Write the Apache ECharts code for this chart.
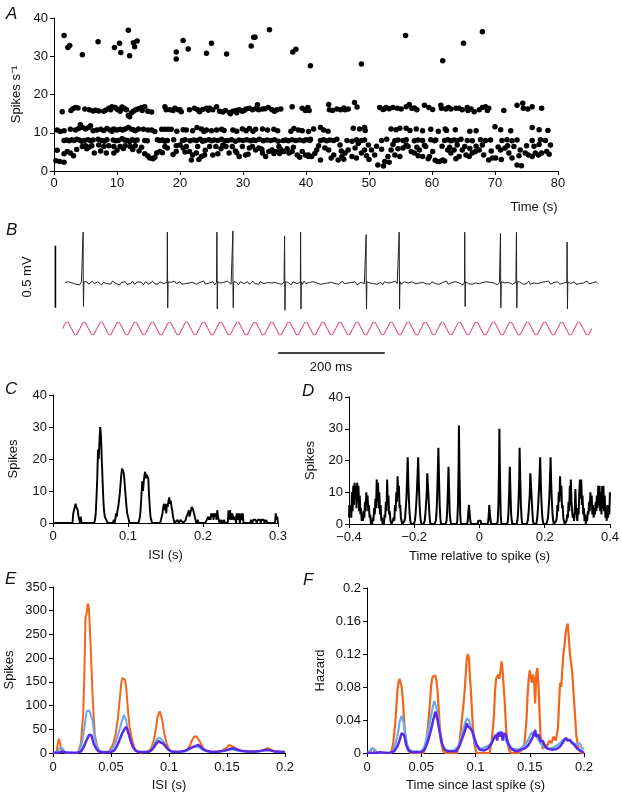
<!DOCTYPE html>
<html><head><meta charset="utf-8">
<script src="https://cdn.jsdelivr.net/npm/echarts@6/dist/echarts.min.js"></script>
<style>html,body{margin:0;padding:0;background:#fff}#c{width:622px;height:794px}</style>
</head><body><div id="c"></div>
<script>
// ---------- Panel A : instantaneous rate (time s, spikes/s) ----------
const aHigh = [[1.6,35.4],[2.2,32.3],[2.5,32.8],[4.5,30.4],[7.0,33.8],[9.6,32.3],[10.4,33.4],[10.6,31.0],[11.8,36.8],[12.0,30.1],[12.6,33.5],[12.8,32.5],[13.2,34.0],[19.4,31.1],[19.4,29.3],[20.5,34.1],[21.3,31.9],[24.2,30.8],[25.0,33.4],[27.4,30.6],[31.3,32.7],[31.7,35.0],[31.9,35.0],[34.2,36.9],[37.9,31.1],[38.4,31.8],[40.7,27.5],[48.8,28.0],[55.8,35.4],[61.7,28.8],[65.0,33.4],[68.0,36.4]];
const aBand16 = [[1.3,15.5],[2.7,15.8],[3.0,16.3],[3.4,16.6],[3.8,16.5],[4.9,16.2],[6.6,15.9],[7.1,15.7],[7.9,15.6],[8.7,16.4],[9.2,16.8],[9.7,16.6],[10.0,16.2],[10.2,16.0],[10.5,15.6],[10.8,16.7],[11.2,16.3],[11.5,16.0],[11.8,14.5],[12.0,14.2],[12.3,15.2],[12.6,15.6],[13.0,16.0],[13.4,16.3],[13.9,16.6],[14.4,16.8],[14.9,15.6],[15.5,15.4],[17.6,16.8],[17.8,16.0],[18.4,16.0],[18.9,15.8],[19.7,16.0],[20.2,15.5],
[20.0,16.0],[21.5,16.0],[22.3,16.4],[23.1,15.5],[23.6,16.1],[24.2,16.4],[24.7,16.4],[25.2,16.0],[25.8,16.8],[26.3,15.6],[26.8,15.4],[27.9,15.3],[28.4,15.6],[28.9,15.8],[29.4,16.0],[29.9,15.6],[30.5,16.2],[31.0,16.4],[31.5,16.0],[32.0,16.3],[32.3,17.3],[32.5,16.0],[33.1,16.2],[34.6,16.0],[35.4,16.0],[37.8,16.8],[39.4,16.4],[39.9,15.8],[40.2,16.2],
[40.3,16.6],[40.5,15.8],[43.6,17.4],[43.7,16.0],[44.9,16.2],[45.5,16.0],[46.2,16.0],[46.7,16.2],[47.7,17.9],[48.1,16.7],[51.7,16.6],[52.2,16.1],[52.7,16.6],[53.2,16.3],[53.8,16.6],[55.1,16.2],[55.9,16.8],[56.4,17.4],[56.8,16.4],[57.2,16.5],[58.8,17.2],[59.5,16.6],[60.1,16.1],
[61.4,17.2],[61.5,16.4],[62.2,16.2],[63.0,16.2],[63.8,16.4],[64.3,16.4],[65.6,16.6],[65.7,15.8],[66.7,15.5],[67.5,16.0],[68.0,16.6],[68.5,16.8],[69.0,16.4],[71.4,15.8],[73.5,17.2],[74.4,17.7],[74.5,16.4],[75.9,16.8],[77.4,16.4],
[5.6,16.0],[6.2,15.7],[8.2,15.9],[9.0,16.0],[11.0,16.5],[14.0,15.8],[19.2,16.4],[22.8,16.0],[24.5,15.9],[27.2,15.8],[28.0,15.0],[29.0,15.2],[30.2,15.9],[33.5,16.3],[34.0,16.6],[35.0,15.6],[36.0,16.2],[44.2,15.8],[46.0,16.5],[52.4,16.2],[54.5,16.4],[57.6,16.0],[62.6,16.6],[64.8,16.0],[66.2,16.2],[68.8,15.8],[75.2,16.2]];
const aBand10 = [[0.5,10.7],[1.6,10.5],[2.6,10.9],[3.4,10.7],[3.9,11.1],[4.2,12.1],[4.5,11.4],[5.0,11.0],[5.5,11.4],[5.8,11.8],[6.8,10.7],[7.4,10.9],[8.4,11.1],[8.9,10.7],[9.5,11.0],[10.0,10.7],[10.5,10.9],[10.9,10.7],[11.3,11.0],[11.8,11.4],[12.3,10.9],[12.9,10.5],[13.4,11.0],[14.2,10.9],[14.9,10.7],[15.5,10.7],[16.0,10.3],[17.1,10.9],[17.6,10.9],[18.1,10.9],[18.6,10.9],
[21.0,10.7],[22.0,10.5],[22.7,11.4],[23.4,11.0],[24.2,10.7],[25.0,10.5],[25.8,10.7],[26.6,10.9],[28.4,10.7],[29.9,11.0],[30.5,10.5],[31.0,11.1],[32.0,10.9],[33.1,11.0],[33.9,10.7],[34.9,10.9],[38.1,11.1],[38.8,10.7],[39.4,10.5],[40.4,10.3],
[41.2,11.0],[42.3,11.4],[42.8,10.7],[47.5,11.2],[49.3,11.4],[49.4,10.6],[53.5,11.0],[54.3,10.8],[54.9,11.2],[55.9,11.2],[57.5,11.0],[59.8,10.9],
[62.1,11.0],[62.3,10.6],[63.7,10.8],[66.0,10.4],[70.0,11.6],[70.9,10.8],[75.9,11.4],[78.4,10.6],
[1.0,10.3],[6.2,10.5],[7.9,10.6],[9.2,10.4],[12.6,10.8],[19.5,10.4],[20.5,10.8],[23.8,10.3],[27.0,10.6],[29.0,10.4],[31.6,10.4],[35.5,10.5],[37.6,10.4],[43.5,10.4],[48.5,11.0],[56.5,10.6],[58.5,10.5],[61.0,10.4],[67.0,10.5],[72.5,10.5],[77.0,10.8]];
const aBand8 = [[1.6,8.0],[2.0,8.1],[2.4,7.9],[2.8,8.2],[3.2,8.0],[3.6,8.3],[4.0,8.1],[4.4,7.8],[4.8,8.0],[5.4,8.2],[5.8,7.9],[6.2,8.1],[7.0,8.3],[7.6,8.0],[8.0,7.8],[8.4,8.2],[9.4,8.1],[9.8,7.9],[10.2,8.0],[10.8,8.4],[11.2,8.1],[11.6,8.0],[12.0,7.7],[12.4,8.2],[12.8,8.0],[13.2,8.1],[14.4,8.0],[14.8,7.9],[16.4,8.2],[16.8,8.0],[17.2,8.1],[17.6,7.8],[18.0,8.0],[19.0,8.2],
[20.4,8.0],[20.8,8.2],[21.6,7.9],[22.2,8.1],[22.6,8.0],[23.2,8.3],[23.6,7.8],[24.0,8.0],[24.6,8.2],[25.0,7.9],[25.4,8.1],[26.0,8.0],[26.6,8.3],[27.2,7.9],[27.6,8.0],[28.2,8.2],[28.8,7.8],[29.4,8.1],[30.0,8.0],[30.6,8.2],[31.2,7.9],[31.6,8.1],[32.0,8.0],[32.6,8.3],[33.2,7.9],[33.8,8.1],[34.4,8.0],[35.0,8.2],[35.6,7.8],[36.4,8.0],[36.8,8.1],[37.2,7.9],[37.8,8.2],[38.4,8.0],[39.0,8.1],[39.6,7.9],[40.0,8.2],[40.6,8.0],
[40.7,8.3],[42.3,8.0],[42.8,8.2],[43.3,7.9],[43.8,8.1],[44.4,8.0],[44.9,8.3],[46.5,8.0],[47.3,7.8],[48.0,8.2],[48.8,8.0],[49.3,8.1],[52.0,8.0],[52.8,8.3],[54.1,7.9],[54.6,8.1],[55.4,8.0],[55.9,8.2],[57.2,7.9],[57.8,8.1],[58.5,8.0],[59.8,8.2],[60.4,7.9],
[60.6,8.1],[62.0,8.0],[62.5,8.2],[63.0,7.9],[63.5,8.1],[64.0,8.0],[64.6,8.3],[65.6,8.0],[66.4,7.9],[67.7,8.2],[68.5,8.0],[69.3,8.1],[71.1,8.0],[71.9,8.2],[72.7,7.9],[73.5,8.1],[75.9,8.0],[77.2,8.2],[78.0,8.0]];
const aBand6 = [[4.5,6.4],[5.0,6.6],[5.5,6.2],[6.0,6.6],[7.1,6.8],[7.9,6.4],[8.7,6.6],[9.5,6.4],[10.5,6.4],[11.3,6.6],[12.1,6.4],[12.9,6.6],[13.9,6.2],[17.6,6.4],[19.4,6.6],[18.0,6.0],[3.6,5.6],[5.2,5.8],[11.0,5.9],
[67.0,6.5],[68.0,6.8],[70.5,6.3],[72.0,6.6],[73.0,6.4],[75.0,6.6],[76.2,6.5],[77.0,6.9],[78.8,6.8],
[42.0,6.6],[45.4,6.8],[51.2,6.5],[53.8,6.9],[56.2,6.4],[58.8,6.7],[61.6,6.5],[64.0,6.8],[65.2,6.4]];
const aLow = [[0.3,2.7],[0.9,2.5],[1.6,2.3],[0.5,5.4],[1.6,4.5],[2.1,5.1],[2.6,4.7],[3.1,4.0],[6.4,4.7],[8.3,4.7],[9.5,4.7],[14.4,4.5],[14.9,3.9],[15.2,3.4],[15.7,3.2],[16.0,3.6],[16.3,4.7],[16.8,5.1],[18.9,4.3],[19.4,5.1],
[20.0,6.8],[20.5,6.0],[21.0,6.4],[21.5,5.1],[21.8,2.9],[22.0,4.2],[22.6,4.7],[22.8,6.4],[23.4,3.8],[23.9,4.2],[24.7,6.4],[25.2,4.2],[25.7,6.4],[26.8,6.8],[27.3,6.4],[27.8,4.7],[28.3,6.4],[29.4,3.8],[29.9,6.4],[30.4,4.2],[31.0,6.0],[31.5,6.4],[32.0,5.5],[32.5,6.0],[33.1,4.7],[33.6,3.8],[34.1,5.1],[34.6,5.5],[35.2,5.1],[35.7,6.4],[36.5,5.1],[37.3,4.7],[37.8,5.1],[38.6,4.2],[39.4,5.1],[39.9,4.2],[40.4,3.8],[23.0,3.0],[26.0,4.5],[28.8,5.2],[30.8,4.4],[32.8,5.8],[34.9,4.6],[36.0,5.6],[38.0,6.2],
[40.4,4.2],[40.9,3.8],[41.7,5.5],[42.3,2.9],[43.0,6.0],[43.6,5.5],[44.4,4.2],[45.1,2.9],[45.7,3.8],[46.2,4.7],[46.7,5.5],[47.3,3.8],[47.8,6.0],[48.3,7.2],[48.8,4.7],[49.3,5.5],[49.9,6.8],[50.4,5.5],[50.9,4.2],[51.4,1.6],[52.0,5.7],[52.5,2.5],[53.0,3.8],[53.5,5.5],[54.1,4.2],[54.9,3.8],[55.4,6.0],[55.9,6.8],[56.7,5.1],[57.2,4.7],[58.0,5.5],[58.5,3.8],[59.0,6.4],[59.6,3.8],[60.1,5.1],[60.9,2.5],[44.0,3.4],[46.0,3.1],[48.0,3.4],[50.0,3.0],[52.3,1.3],[53.2,2.3],[57.8,4.0],[59.4,3.2],[60.5,2.8],
[61.2,2.5],[61.7,2.9],[62.5,5.5],[63.0,4.7],[63.5,5.5],[64.3,3.8],[64.8,5.5],[65.4,4.2],[65.9,3.8],[66.4,4.7],[66.9,5.1],[67.5,5.5],[68.2,4.2],[69.0,2.9],[69.6,3.4],[70.1,3.4],[70.9,5.5],[71.6,6.0],[72.2,4.7],[72.7,3.4],[73.5,1.6],[74.0,5.5],[74.8,4.7],[75.3,4.2],[75.9,3.8],[76.4,4.7],[76.9,4.2],[77.4,4.7],[78.2,5.1],[62.0,2.6],[71.0,3.0],[63.8,3.2],[74.2,1.4],
[7.4,5.2],[10.0,5.4],[12.5,5.6],[13.5,5.2],[17.2,4.8],[20.8,5.0],[24.0,5.4],[26.5,5.8],[29.0,4.8],[33.0,5.6],[35.8,4.6],[37.0,5.8],[39.0,3.6],[41.4,4.6],[45.6,5.2],[49.6,4.0],[54.6,5.8],[57.6,6.2],[62.8,6.2],[66.0,5.9],[69.4,5.2],[73.8,4.0],[78.6,4.4]];
const aXTicks = ['0','10','20','30','40','50','60','70','80'];

// ---------- Panel B : voltage trace (ms, mV) ----------
const spikeTimes = [34,192,285,315,412,442,565,627,750,817,847,942];
const spikeTops = [0.41,0.41,0.41,0.42,0.38,0.41,0.39,0.41,0.41,0.40,0.41,0.33];
const spikeBottoms = [-0.19,-0.20,-0.21,-0.20,-0.22,-0.21,-0.21,-0.21,-0.19,-0.20,-0.20,-0.21];
const noiseB = [1,-2,2,-1,0,3,-2,1,-3,2,0,-1,2,-2,1,3,-1,-2,2,0,-3,1,2,-1,1,-2,3,0,-1,2,-3,1,0,2,-2,1,-1,3,-2,0,2,-1,1,-3,2,0,-2,1,3,-1,0,-2,2,1,-1,-3,2,0,1,-2,3,-1,0,2,-2,1,-1,2,0,-3,1,2,-2,0,1,-1,3,-2,1,0,-1,2,-3,1,2,0,-2,1,-1,3,0,-2,2,-1,1,-3,2,0,-1,1,2,-2,0,3,-1,1,-2,2,0,-1,-3,1,2,0,-2,1,3,-1,0,-2,2,-1,1,0,-3,2,1,-1,0,2,-2,3,-1,0,1,-2,2,-1,0,3,-2,1,-1,2,0,-3,1,2,-1,0,-2,1,3,-1,2,0,-2,1,-1,2,-3,0,1,2,-1,-2,3,0,1,-1,2,-2,0,1,-3,2,-1,0,2,1,-2,3,-1,0,-2,1,2,-1,0,-3,2,1,-1,2,0,-2,1,3,-1,0,-2,2,1,-1,2,-2,0,1,-1,3,-2,0,1,-2,2,-1,0,2,-3,1,0,-1,2,-2,1,0,3,-1,-2,1,0,2,-1,1,-2,0,2,-3,1,-1,2,0,-2,1,3,-2,0,1,-1,2,0,-2,1,-1,3,-2,1,0,2,-1,-2,1,0,2,-1,3,-2,0,1,-1,2,-2,1,0,-3,2,1,-1,0,2,-2,1,-1,2,0,-2,3,-1,1,0,-2,2,-1];
const noiseUnit = 0.005;   // mV per noise unit
const sineStart = -4, sineStep = 8; // ms
const sineVals = [0,1,0,-1,0,1,0,-1,0,1,0,-1,0,1,0,-1,0,1,0,-1,0,1,0,-1,0,1,0,-1,0,1,0,-1,0,1,0,-1,0,1,0,-1,0,1,0,-1,0,1,0,-1,0,1,0,-1,0,1,0,-1,0,1,0,-1,0,1,0,-1,0,1,0,-1,0,1,0,-1,0,1,0,-1,0,1,0,-1,0,1,0,-1,0,1,0,-1,0,1,0,-1,0,1,0,-1,0,1,0,-1,0,1,0,-1,0,1,0,-1,0,1,0,-1,0,1,0,-1,0,1,0,-1,0,1,0,-1,0];
const scaleBarV = [[-18,0.3],[-18,-0.2]];   // 0.5 mV
const scaleBarH = [[400,0],[600,0]];        // 200 ms

// ---------- Panel C : ISI histogram ----------
const cISI = [[0,0],[0.026,0],[0.027,3],[0.028,4],[0.029,5],[0.030,6],[0.031,5],[0.032,5],[0.033,4],[0.034,2],[0.035,2],[0.036,0],[0.037,2],[0.038,0],
[0.055,0],[0.056,1],[0.057,3],[0.058,8],[0.059,14],[0.060,23],[0.061,20],[0.062,26],[0.063,30],[0.064,27],[0.065,20],[0.066,14],[0.067,8],[0.068,4],[0.069,2],[0.070,2],[0.071,1],[0.072,1],[0.073,0],
[0.080,0],[0.081,1],[0.082,0],[0.083,1],[0.084,3],[0.085,2],[0.086,4],[0.087,5],[0.088,7],[0.089,9],[0.090,12],[0.091,15],[0.092,17],[0.093,17],[0.094,16],[0.095,14],[0.096,11],[0.097,8],[0.098,5],[0.099,3],[0.100,2],[0.101,1],[0.102,0],
[0.114,0],[0.115,1],[0.116,2],[0.117,5],[0.118,9],[0.119,13],[0.120,10],[0.121,13],[0.122,15],[0.123,16],[0.124,14],[0.125,15],[0.126,15],[0.127,14],[0.128,9],[0.129,5],[0.130,2],[0.131,1],[0.132,0],
[0.143,0],[0.144,1],[0.145,1],[0.146,3],[0.147,5],[0.148,6],[0.149,4],[0.150,6],[0.151,3],[0.152,6],[0.153,5],[0.154,7],[0.155,8],[0.156,6],[0.157,7],[0.158,5],[0.159,4],[0.160,2],[0.161,1],[0.162,0],[0.166,1],[0.168,0],[0.170,1],[0.172,1],[0.174,0],
[0.176,0],[0.177,1],[0.178,2],[0.179,2],[0.180,3],[0.181,4],[0.182,2],[0.183,3],[0.184,4],[0.185,5],[0.186,5],[0.187,4],[0.188,3],[0.189,2],[0.190,1],[0.191,0],[0.193,1],[0.194,0],
[0.203,0],[0.205,1],[0.207,2],[0.208,1],[0.209,2],[0.210,1],[0.211,3],[0.212,2],[0.213,3],[0.214,1],[0.215,3],[0.216,2],[0.217,3],[0.218,1],[0.219,4],[0.220,2],[0.221,1],[0.222,0],[0.224,1],[0.226,0],[0.228,1],[0.229,0],
[0.233,0],[0.234,4],[0.235,1],[0.236,4],[0.237,2],[0.238,1],[0.239,3],[0.240,2],[0.241,1],[0.242,1],[0.243,2],[0.244,0],[0.245,3],[0.246,1],[0.247,2],[0.248,3],[0.249,0],[0.250,1],[0.251,3],[0.252,1],[0.253,3],[0.254,0],
[0.263,0],[0.264,1],[0.266,0],[0.267,1],[0.270,1],[0.272,0],[0.273,1],[0.276,1],[0.277,0],[0.278,1],[0.281,1],[0.282,0],[0.284,1],[0.286,0],[0.296,0],[0.297,3],[0.298,1],[0.299,2],[0.300,0]];
const cXTicks = ['0','0.1','0.2','0.3'];

// ---------- Panel D : autocorrelogram ----------
const dAuto = [[-0.400,2],[-0.399,6],[-0.397,3],[-0.395,5],[-0.393,2],[-0.391,10],[-0.389,4],[-0.387,12],[-0.385,6],[-0.383,13],[-0.381,8],[-0.379,12],[-0.377,5],[-0.375,13],[-0.373,7],[-0.371,12],[-0.369,4],[-0.367,9],[-0.365,3],[-0.363,5],[-0.361,1],[-0.359,3],[-0.357,1],[-0.355,4],[-0.353,2],[-0.351,7],[-0.349,4],[-0.347,10],[-0.345,6],[-0.343,9],[-0.341,4],[-0.339,6],[-0.337,2],[-0.335,3],[-0.333,0],[-0.331,1],[-0.329,0],[-0.327,2],[-0.325,1],[-0.323,5],[-0.321,3],[-0.319,8],[-0.317,5],[-0.315,14],[-0.313,7],[-0.311,13],[-0.309,5],[-0.307,10],[-0.305,3],[-0.303,6],[-0.301,1],[-0.299,2],[-0.297,0],[-0.295,1],[-0.293,0],[-0.291,3],[-0.289,2],[-0.287,7],[-0.285,4],[-0.283,14],[-0.281,6],[-0.279,9],[-0.277,3],[-0.275,4],[-0.273,1],[-0.271,1],[-0.269,0],[-0.266,0],[-0.263,2],[-0.261,1],[-0.259,6],[-0.257,4],[-0.255,10],[-0.253,7],[-0.251,15],[-0.249,9],[-0.247,12],[-0.245,5],[-0.243,6],[-0.241,2],[-0.239,1],[-0.237,0],[-0.233,0],[-0.230,1],[-0.228,2],[-0.226,5],[-0.224,8],[-0.222,14],[-0.220,21],[-0.218,12],[-0.216,7],[-0.214,3],[-0.212,1],[-0.210,0],[-0.201,0],[-0.198,1],[-0.196,3],[-0.194,6],[-0.192,10],[-0.190,15],[-0.188,21],[-0.186,13],[-0.184,7],[-0.182,3],[-0.180,1],[-0.178,0],[-0.171,0],[-0.168,1],[-0.166,3],[-0.164,6],[-0.162,9],[-0.160,16],[-0.158,12],[-0.156,8],[-0.154,4],[-0.152,1],[-0.150,0],[-0.137,0],[-0.134,1],[-0.132,3],[-0.130,8],[-0.128,15],[-0.126,24],[-0.124,14],[-0.122,6],[-0.120,2],[-0.118,0],[-0.104,0],[-0.101,1],[-0.099,4],[-0.097,10],[-0.095,18],[-0.093,10],[-0.091,3],[-0.089,1],[-0.087,0],[-0.070,0],[-0.068,1],[-0.066,6],[-0.064,18],[-0.063,31],[-0.061,14],[-0.059,3],[-0.057,0],[-0.038,0],[-0.036,1],[-0.034,4],[-0.032,6],[-0.030,3],[-0.028,1],[-0.026,0],[-0.005,0],[-0.004,1],[0.004,1],[0.005,0],
[0.025,0],[0.027,1],[0.029,4],[0.030,6],[0.032,3],[0.034,1],[0.036,0],[0.054,0],[0.056,1],[0.058,6],[0.060,18],[0.061,30],[0.063,14],[0.065,3],[0.067,0],[0.085,0],[0.087,1],[0.089,4],[0.091,10],[0.093,18],[0.095,10],[0.097,3],[0.099,1],[0.101,0],[0.114,0],[0.116,1],[0.118,3],[0.120,8],[0.122,15],[0.123,24],[0.125,14],[0.127,6],[0.129,2],[0.131,0],[0.145,0],[0.148,1],[0.150,3],[0.152,6],[0.154,9],[0.156,16],[0.158,12],[0.160,8],[0.162,4],[0.164,1],[0.166,0],[0.174,0],[0.176,1],[0.178,3],[0.180,6],[0.182,10],[0.184,15],[0.186,21],[0.188,13],[0.190,7],[0.192,3],[0.194,1],[0.196,0],[0.205,0],[0.208,1],[0.210,2],[0.212,5],[0.214,8],[0.216,14],[0.218,21],[0.220,12],[0.222,7],[0.224,3],[0.226,1],[0.228,0],[0.233,0],[0.235,1],[0.237,2],[0.239,6],[0.241,4],[0.243,10],[0.245,7],[0.247,15],[0.249,9],[0.251,12],[0.253,5],[0.255,6],[0.257,2],[0.259,1],[0.261,0],[0.265,0],[0.267,1],[0.269,3],[0.271,2],[0.273,7],[0.275,4],[0.277,12],[0.279,6],[0.280,14],[0.282,7],[0.284,4],[0.286,2],[0.288,3],[0.290,1],[0.292,4],[0.294,11],[0.296,5],[0.298,3],[0.300,1],[0.302,5],[0.304,3],[0.306,10],[0.308,14],[0.310,8],[0.312,14],[0.314,6],[0.316,9],[0.318,3],[0.320,5],[0.322,1],[0.324,3],[0.326,0],[0.328,2],[0.330,1],[0.332,4],[0.334,3],[0.336,7],[0.338,4],[0.340,10],[0.342,6],[0.344,9],[0.346,3],[0.348,6],[0.350,2],[0.352,4],[0.354,3],[0.356,7],[0.358,4],[0.360,9],[0.362,5],[0.364,12],[0.366,6],[0.368,12],[0.370,4],[0.372,10],[0.374,3],[0.376,12],[0.378,5],[0.380,12],[0.382,4],[0.384,9],[0.386,2],[0.388,5],[0.390,1],[0.392,6],[0.394,2],[0.396,6],[0.398,3],[0.400,10]];
const dXTicks = ['\u22120.4','\u22120.2','0','0.2','0.4'];

// ---------- Panel E : ISI histograms, three units ----------
const eOrange = [[0,0],[0.003,2],[0.004,18],[0.005,30],[0.006,22],[0.007,8],[0.009,2],[0.012,0],[0.02,0],[0.022,4],[0.024,20],[0.026,80],[0.027,160],[0.028,285],[0.029,295],[0.030,315],[0.031,305],[0.032,250],[0.033,190],[0.034,130],[0.035,80],[0.036,40],[0.038,15],[0.040,5],[0.043,2],[0.048,3],[0.050,10],[0.052,20],[0.054,40],[0.056,75],[0.058,125],[0.059,150],[0.060,158],[0.061,157],[0.062,155],[0.063,140],[0.064,110],[0.065,80],[0.066,55],[0.068,30],[0.070,12],[0.072,4],[0.075,1],[0.080,2],[0.083,5],[0.085,12],[0.087,28],[0.089,55],[0.090,75],[0.091,82],[0.092,88],[0.093,80],[0.094,72],[0.095,55],[0.096,40],[0.098,20],[0.100,8],[0.103,3],[0.110,2],[0.114,4],[0.116,8],[0.118,15],[0.120,28],[0.122,35],[0.123,33],[0.124,35],[0.125,30],[0.127,22],[0.129,12],[0.131,6],[0.134,3],[0.140,2],[0.145,4],[0.148,8],[0.150,12],[0.152,17],[0.154,15],[0.156,12],[0.158,9],[0.161,5],[0.165,3],[0.170,2],[0.175,3],[0.180,5],[0.183,8],[0.185,10],[0.187,8],[0.190,5],[0.195,3],[0.2,2]];
const eLightBlue = [[0,0],[0.004,3],[0.006,12],[0.007,15],[0.008,10],[0.010,3],[0.013,1],[0.020,1],[0.022,3],[0.024,12],[0.026,35],[0.028,70],[0.029,88],[0.030,86],[0.031,90],[0.032,85],[0.033,87],[0.034,70],[0.035,50],[0.036,30],[0.038,12],[0.040,5],[0.044,2],[0.048,3],[0.050,6],[0.052,12],[0.054,22],[0.056,38],[0.058,55],[0.060,72],[0.061,80],[0.062,78],[0.063,70],[0.064,55],[0.066,35],[0.068,18],[0.070,8],[0.073,3],[0.080,2],[0.084,5],[0.086,12],[0.088,22],[0.090,30],[0.092,32],[0.094,28],[0.096,20],[0.098,12],[0.100,6],[0.104,2],[0.112,2],[0.116,5],[0.119,10],[0.122,14],[0.124,13],[0.126,12],[0.128,8],[0.131,4],[0.136,2],[0.145,3],[0.150,6],[0.153,8],[0.156,7],[0.160,4],[0.168,2],[0.178,3],[0.183,5],[0.186,6],[0.189,4],[0.195,2],[0.2,2]];
const ePurple = [[0,0],[0.005,1],[0.008,3],[0.011,1],[0.020,0],[0.024,3],[0.026,10],[0.028,22],[0.030,32],[0.031,38],[0.032,35],[0.033,38],[0.034,30],[0.035,20],[0.037,10],[0.039,4],[0.042,1],[0.050,2],[0.053,6],[0.055,14],[0.057,25],[0.059,38],[0.061,48],[0.062,52],[0.063,55],[0.064,50],[0.065,42],[0.067,25],[0.069,12],[0.071,5],[0.074,2],[0.082,2],[0.085,6],[0.087,12],[0.089,20],[0.091,25],[0.093,22],[0.095,20],[0.097,14],[0.099,8],[0.102,3],[0.108,2],[0.114,5],[0.117,9],[0.120,12],[0.123,15],[0.125,17],[0.127,14],[0.129,9],[0.132,5],[0.137,2],[0.143,3],[0.148,5],[0.152,8],[0.155,10],[0.158,8],[0.162,5],[0.168,3],[0.175,3],[0.180,5],[0.184,7],[0.187,6],[0.191,3],[0.2,2]];
const eXTicks = ['0','0.05','0.1','0.15','0.2'];

// ---------- Panel F : hazard functions ----------
const fOrange = [[0,0],[0.003,0],[0.004,0.005],[0.006,0.005],[0.007,0],[0.022,0],[0.024,0.01],[0.026,0.035],[0.027,0.055],[0.028,0.075],[0.029,0.085],[0.030,0.09],[0.031,0.088],[0.032,0.08],[0.033,0.065],[0.034,0.045],[0.035,0.025],[0.036,0.012],[0.038,0.003],[0.040,0],[0.052,0],[0.054,0.008],[0.056,0.03],[0.058,0.06],[0.059,0.08],[0.060,0.09],[0.061,0.093],[0.062,0.095],[0.063,0.094],[0.064,0.088],[0.065,0.075],[0.066,0.055],[0.067,0.035],[0.068,0.015],[0.070,0.003],[0.072,0],[0.083,0],[0.085,0.01],[0.087,0.035],[0.089,0.06],[0.090,0.075],[0.091,0.095],[0.092,0.115],[0.093,0.12],[0.094,0.115],[0.095,0.09],[0.096,0.07],[0.097,0.045],[0.098,0.025],[0.099,0.01],[0.101,0],[0.113,0],[0.115,0.015],[0.117,0.045],[0.118,0.075],[0.119,0.09],[0.120,0.088],[0.121,0.095],[0.122,0.09],[0.123,0.1],[0.124,0.111],[0.125,0.1],[0.126,0.08],[0.127,0.06],[0.128,0.035],[0.129,0.015],[0.131,0.003],[0.133,0],[0.140,0],[0.143,0.005],[0.145,0.01],[0.147,0.04],[0.148,0.07],[0.149,0.09],[0.150,0.1],[0.151,0.102],[0.152,0.085],[0.153,0.095],[0.154,0.09],[0.155,0.06],[0.156,0.095],[0.157,0.103],[0.158,0.085],[0.159,0.05],[0.160,0.02],[0.162,0.005],[0.164,0.01],[0.166,0.008],[0.168,0.015],[0.170,0.012],[0.172,0.02],[0.174,0.015],[0.176,0.03],[0.177,0.06],[0.178,0.085],[0.179,0.08],[0.180,0.1],[0.181,0.12],[0.182,0.13],[0.183,0.145],[0.184,0.152],[0.185,0.157],[0.186,0.14],[0.187,0.12],[0.188,0.12],[0.189,0.1],[0.190,0.08],[0.191,0.06],[0.192,0.04],[0.193,0.02],[0.195,0.005],[0.197,0],[0.2,0]];
const fLightBlue = [[0,0],[0.003,0.003],[0.005,0.006],[0.007,0.004],[0.009,0.001],[0.012,0],[0.022,0],[0.025,0.005],[0.027,0.015],[0.029,0.028],[0.030,0.038],[0.031,0.04],[0.032,0.045],[0.033,0.043],[0.034,0.035],[0.035,0.025],[0.037,0.01],[0.039,0.004],[0.042,0.002],[0.050,0.002],[0.053,0.008],[0.055,0.018],[0.057,0.03],[0.059,0.045],[0.061,0.058],[0.062,0.063],[0.063,0.062],[0.064,0.055],[0.066,0.038],[0.068,0.02],[0.070,0.008],[0.073,0.003],[0.080,0.003],[0.084,0.008],[0.086,0.015],[0.088,0.025],[0.090,0.035],[0.092,0.042],[0.094,0.04],[0.096,0.03],[0.098,0.02],[0.100,0.01],[0.103,0.005],[0.107,0.006],[0.110,0.008],[0.113,0.01],[0.116,0.016],[0.119,0.022],[0.122,0.025],[0.124,0.024],[0.126,0.02],[0.128,0.015],[0.131,0.008],[0.135,0.005],[0.140,0.004],[0.144,0.008],[0.147,0.012],[0.150,0.02],[0.152,0.025],[0.154,0.022],[0.156,0.02],[0.159,0.014],[0.162,0.008],[0.166,0.005],[0.170,0.006],[0.174,0.008],[0.178,0.012],[0.181,0.016],[0.184,0.018],[0.187,0.015],[0.190,0.012],[0.193,0.01],[0.196,0.012],[0.198,0.006],[0.2,0.005]];
const fPurple = [[0,0],[0.008,0],[0.012,0.001],[0.020,0],[0.025,0.002],[0.028,0.008],[0.030,0.015],[0.031,0.02],[0.032,0.024],[0.033,0.026],[0.034,0.022],[0.035,0.018],[0.036,0.01],[0.038,0.004],[0.041,0.001],[0.050,0.001],[0.053,0.004],[0.055,0.01],[0.057,0.018],[0.059,0.028],[0.061,0.04],[0.063,0.05],[0.064,0.046],[0.065,0.04],[0.067,0.025],[0.069,0.012],[0.071,0.005],[0.074,0.002],[0.082,0.002],[0.085,0.008],[0.087,0.015],[0.089,0.022],[0.091,0.03],[0.092,0.036],[0.093,0.032],[0.095,0.03],[0.097,0.027],[0.099,0.018],[0.101,0.01],[0.104,0.004],[0.108,0.003],[0.112,0.006],[0.115,0.012],[0.117,0.018],[0.119,0.022],[0.120,0.015],[0.121,0.025],[0.123,0.02],[0.124,0.026],[0.125,0.015],[0.126,0.024],[0.128,0.022],[0.130,0.012],[0.133,0.005],[0.137,0.002],[0.142,0.004],[0.146,0.006],[0.149,0.01],[0.151,0.015],[0.153,0.02],[0.155,0.028],[0.156,0.02],[0.158,0.022],[0.160,0.014],[0.162,0.015],[0.164,0.008],[0.167,0.005],[0.171,0.004],[0.175,0.005],[0.178,0.008],[0.181,0.014],[0.183,0.018],[0.185,0.015],[0.187,0.016],[0.189,0.012],[0.191,0.01],[0.194,0.005],[0.198,0.002],[0.2,0]];
const fXTicks = ['0','0.05','0.1','0.15','0.2'];
const fYTicks = ['0','0.04','0.08','0.12','0.16','0.2'];

// ---------- build ----------
const FONT = '"Liberation Sans", Arial, sans-serif';
const ORANGE = '#f2661c', LBLUE = '#6aabec', PURPLE = '#5a2ae6';

function tickFmt(labels, min, interval) {
  return function (v) { const i = Math.round((v - min) / interval); return labels[i] !== undefined ? labels[i] : ''; };
}
function ax(extra) {
  const base = {
    axisLine: { show: true, onZero: false, lineStyle: { color: '#000', width: 1 } },
    axisTick: { show: true, length: 4, lineStyle: { color: '#000', width: 1 } },
    axisLabel: { color: '#111', fontSize: 13, fontFamily: FONT, margin: 6 },
    splitLine: { show: false },
    nameTextStyle: { color: '#111', fontSize: 13, fontFamily: FONT },
    nameLocation: 'middle'
  };
  return Object.assign(base, extra);
}

// B trace
const trace = noiseB.map((n, i) => [i * 1000 / (noiseB.length - 1), n * noiseUnit]);
spikeTimes.forEach((t, k) => {
  trace.push([t - 0.4, 0.005], [t, spikeTops[k]], [t + 0.7, spikeBottoms[k]], [t + 1.4, 0.01]);
});
trace.sort((a, b) => a[0] - b[0]);
const sine = sineVals.map((v, i) => [sineStart + i * sineStep, v]);

const pxPerMs = 0.533;
const bLeft = 65 - 20 * pxPerMs, bWidth = 1020 * pxPerMs;

const grids = [
  { left: 54, top: 18, width: 504, height: 153 },          // A
  { left: bLeft, top: 221, width: bWidth, height: 99.2 },   // B trace
  { left: bLeft, top: 322, width: bWidth, height: 13 },     // B sine
  { left: bLeft, top: 350, width: bWidth, height: 6 },      // B 200ms bar
  { left: 53, top: 395, width: 225, height: 128 },          // C
  { left: 349, top: 397, width: 264, height: 127 },         // D
  { left: 53, top: 587, width: 232, height: 166 },          // E
  { left: 367, top: 588, width: 217, height: 165 }          // F
];

const xAxes = [
  ax({ gridIndex: 0, type: 'value', min: 0, max: 80, interval: 10, axisLabel: { color: '#111', fontSize: 13, fontFamily: FONT, margin: 6, formatter: tickFmt(aXTicks, 0, 10) } }),
  { gridIndex: 1, type: 'value', min: -20, max: 1000, show: false },
  { gridIndex: 2, type: 'value', min: -20, max: 1000, show: false },
  { gridIndex: 3, type: 'value', min: -20, max: 1000, show: false },
  ax({ gridIndex: 4, type: 'value', min: 0, max: 0.3, interval: 0.1, name: 'ISI (s)', nameGap: 26, axisLabel: { color: '#111', fontSize: 13, fontFamily: FONT, margin: 7, formatter: tickFmt(cXTicks, 0, 0.1) } }),
  ax({ gridIndex: 5, type: 'value', min: -0.4, max: 0.4, interval: 0.2, name: 'Time relative to spike (s)', nameGap: 26, axisLabel: { color: '#111', fontSize: 13, fontFamily: FONT, margin: 7, formatter: tickFmt(dXTicks, -0.4, 0.2) } }),
  ax({ gridIndex: 6, type: 'value', min: 0, max: 0.2, interval: 0.05, name: 'ISI (s)', nameGap: 26, axisLabel: { color: '#111', fontSize: 13, fontFamily: FONT, margin: 8, formatter: tickFmt(eXTicks, 0, 0.05) } }),
  ax({ gridIndex: 7, type: 'value', min: 0, max: 0.2, interval: 0.05, name: 'Time since last spike (s)', nameGap: 26, axisLabel: { color: '#111', fontSize: 13, fontFamily: FONT, margin: 8, formatter: tickFmt(fXTicks, 0, 0.05) } })
];
const yAxes = [
  ax({ gridIndex: 0, type: 'value', min: 0, max: 40, interval: 10, name: 'Spikes s\u207B\u00B9', nameGap: 29 }),
  { gridIndex: 1, type: 'value', min: -0.3, max: 0.5, show: false },
  { gridIndex: 2, type: 'value', min: -1, max: 1, show: false },
  { gridIndex: 3, type: 'value', min: -1, max: 1, show: false },
  ax({ gridIndex: 4, type: 'value', min: 0, max: 40, interval: 10, name: 'Spikes', nameGap: 33 }),
  ax({ gridIndex: 5, type: 'value', min: 0, max: 40, interval: 10, name: 'Spikes', nameGap: 32 }),
  ax({ gridIndex: 6, type: 'value', min: 0, max: 350, interval: 50, name: 'Spikes', nameGap: 37 }),
  ax({ gridIndex: 7, type: 'value', min: 0, max: 0.2, interval: 0.04, name: 'Hazard', nameGap: 40, axisLabel: { color: '#111', fontSize: 13, fontFamily: FONT, margin: 6, formatter: tickFmt(fYTicks, 0, 0.04) } })
];

function line(xi, data, color, width, extra) {
  return Object.assign({ type: 'line', xAxisIndex: xi, yAxisIndex: xi, data: data, showSymbol: false, symbol: 'none',
    lineStyle: { color: color, width: width }, animation: false, silent: true }, extra || {});
}

const series = [
  { type: 'scatter', xAxisIndex: 0, yAxisIndex: 0, data: [].concat(aHigh, aBand16, aBand10, aBand8, aBand6, aLow),
    symbolSize: 5.5, itemStyle: { color: '#000', opacity: 1 }, animation: false, silent: true },
  line(1, trace, '#222', 1),
  line(1, scaleBarV, '#000', 1.6),
  line(2, sine, '#e5508f', 1.1, { smooth: 0.5 }),
  line(3, scaleBarH, '#000', 1.3),
  line(4, cISI, '#000', 1.9),
  line(5, dAuto, '#000', 2),
  line(6, eOrange, ORANGE, 2),
  line(6, eLightBlue, LBLUE, 2),
  line(6, ePurple, PURPLE, 2.5),
  line(7, fOrange, ORANGE, 2.2),
  line(7, fLightBlue, LBLUE, 2.2),
  line(7, fPurple, PURPLE, 2.5)
];

function letter(t, x, y) {
  return { type: 'text', x: x, y: y, style: { text: t, font: 'italic 17px ' + FONT, fill: '#111', align: 'left', verticalAlign: 'middle' } };
}
const graphic = [
  letter('A', 6, 14), letter('B', 6, 230), letter('C', 5, 389), letter('D', 302, 391), letter('E', 5, 579), letter('F', 303, 580),
  { type: 'text', x: 534, y: 207, style: { text: 'Time (s)', font: '13px ' + FONT, fill: '#111', align: 'center', verticalAlign: 'middle' } },
  { type: 'text', x: 27, y: 277, rotation: Math.PI / 2, style: { text: '0.5 mV', font: '13px ' + FONT, fill: '#111', align: 'center', verticalAlign: 'middle' } },
  { type: 'text', x: 331, y: 367, style: { text: '200 ms', font: '13px ' + FONT, fill: '#111', align: 'center', verticalAlign: 'middle' } }
];

const chart = echarts.init(document.getElementById('c'), null, { renderer: 'canvas' });
chart.setOption({ backgroundColor: '#fff', animation: false, grid: grids, xAxis: xAxes, yAxis: yAxes, series: series, graphic: graphic });
</script></body></html>
